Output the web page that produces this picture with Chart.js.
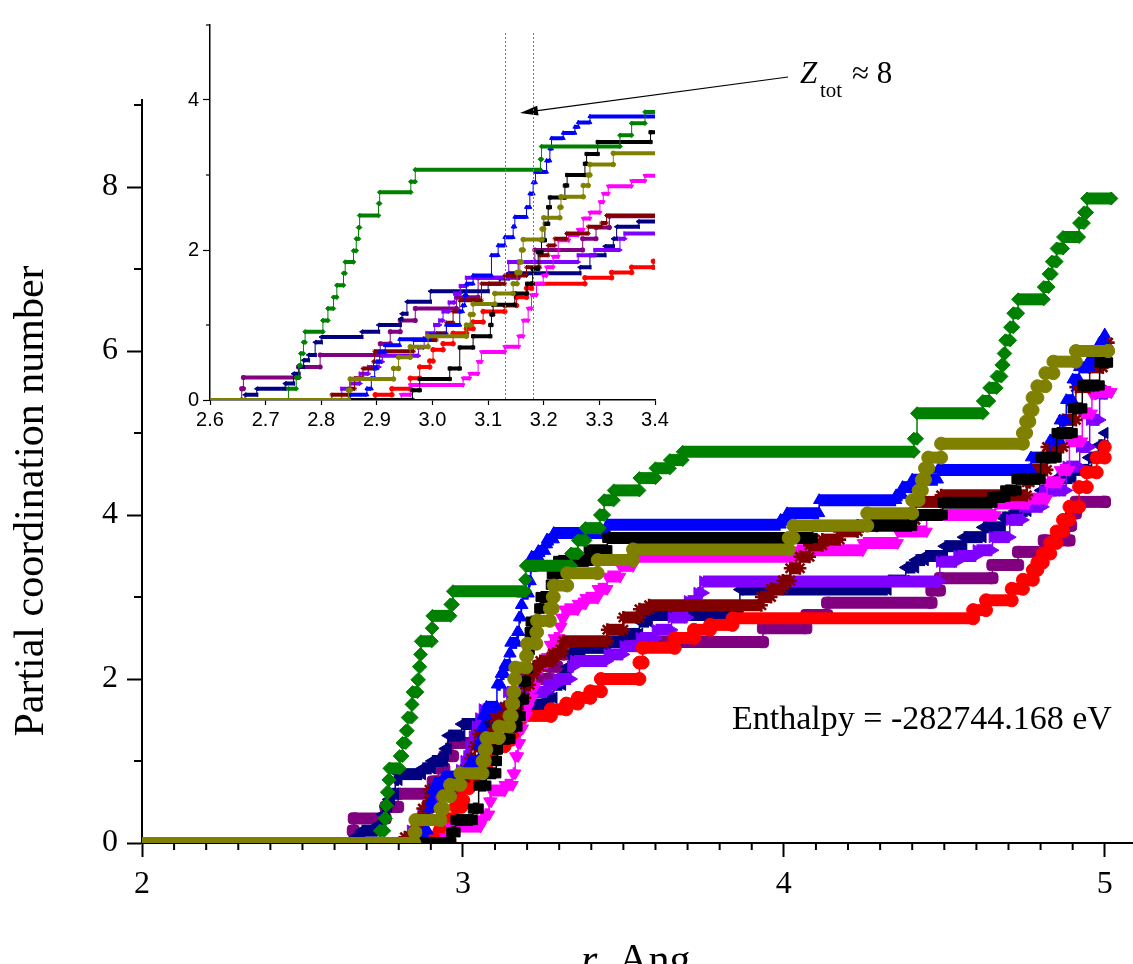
<!DOCTYPE html>
<html>
<head>
<meta charset="utf-8">
<title>Partial coordination number</title>
<script src="https://cdn.jsdelivr.net/npm/chart.js@4.4.1/dist/chart.umd.min.js"></script>
<style>
  html, body { margin: 0; padding: 0; background: #fff; }
  #wrap { position: relative; width: 1133px; height: 964px; overflow: hidden; }
  #main { position: absolute; left: 0; top: 0; }
  #inset { position: absolute; left: 140px; top: 10px; }
</style>
</head>
<body>
<div id="wrap">
  <canvas id="main" width="1133" height="964"></canvas>
  <canvas id="inset" width="540" height="430"></canvas>
</div>
<script>
// ---- step data: r (Ang.) where the count jumps, and the new count ----
const greenR = [2.0, 2.741, 2.755, 2.760, 2.763, 2.768, 2.771, 2.803, 2.812, 2.822, 2.828, 2.840, 2.843, 2.858, 2.863, 2.867, 2.869, 2.903, 2.905, 2.961, 2.969, 3.194, 3.196, 3.337, 3.358, 3.382, 3.427, 3.44, 3.47, 3.55, 3.60, 3.645, 3.685, 4.405, 4.415, 4.62, 4.64, 4.663, 4.678, 4.685, 4.69, 4.705, 4.715, 4.73, 4.81, 4.825, 4.835, 4.85, 4.87, 4.92, 4.935, 4.945, 5.02];
const greenN = [0, 0.15, 0.30, 0.46, 0.62, 0.77, 0.91, 1.06, 1.22, 1.37, 1.53, 1.69, 1.84, 1.99, 2.15, 2.30, 2.46, 2.62, 2.77, 2.91, 3.07, 3.21, 3.38, 3.53, 3.69, 3.84, 4.0, 4.18, 4.3, 4.45, 4.57, 4.67, 4.77, 4.93, 5.24, 5.39, 5.55, 5.69, 5.83, 5.97, 6.13, 6.29, 6.46, 6.63, 6.78, 6.94, 7.09, 7.25, 7.39, 7.56, 7.69, 7.86, 7.86];

const blueR = [2.0, 2.852, 2.882, 2.89, 2.896, 2.9, 2.905, 2.915, 2.941, 2.995, 3.025, 3.049, 3.054, 3.058, 3.061, 3.073, 3.106, 3.118, 3.13, 3.145, 3.148, 3.169, 3.175, 3.181, 3.185, 3.205, 3.211, 3.214, 3.235, 3.256, 3.262, 3.283, 3.45, 3.99, 4.01, 4.11, 4.35, 4.37, 4.40, 4.48, 4.77, 4.83, 4.86, 4.88, 4.90, 4.92, 4.953, 4.984, 5.0];
const blueN = [0, 0.07, 0.15, 0.29, 0.42, 0.51, 0.64, 0.73, 0.81, 0.87, 1.0, 1.18, 1.26, 1.40, 1.55, 1.66, 1.93, 2.06, 2.17, 2.31, 2.44, 2.57, 2.75, 2.9, 3.04, 3.19, 3.35, 3.49, 3.56, 3.64, 3.70, 3.78, 3.88, 3.94, 4.02, 4.18, 4.24, 4.34, 4.43, 4.55, 4.70, 4.91, 5.15, 5.4, 5.65, 5.8, 5.9, 6.1, 6.2];

const blackR = [2.0, 2.964, 2.977, 3.031, 3.049, 3.073, 3.104, 3.106, 3.109, 3.148, 3.17, 3.18, 3.19, 3.196, 3.202, 3.208, 3.211, 3.238, 3.242, 3.274, 3.277, 3.297, 3.392, 3.45, 4.09, 4.40, 4.495, 4.65, 4.69, 4.725, 4.80, 4.85, 4.9, 4.93, 4.984, 5.01];
const blackN = [0, 0.13, 0.28, 0.42, 0.70, 0.85, 1.0, 1.14, 1.27, 1.42, 1.55, 1.75, 1.97, 2.13, 2.35, 2.57, 2.70, 2.86, 3.0, 3.15, 3.28, 3.44, 3.57, 3.72, 3.87, 4.0, 4.15, 4.22, 4.3, 4.44, 4.7, 5.0, 5.3, 5.58, 5.86, 5.86];

const oliveR = [2.0, 2.849, 2.852, 2.93, 2.939, 2.96, 2.992, 3.061, 3.068, 3.073, 3.112, 3.145, 3.152, 3.157, 3.16, 3.163, 3.197, 3.2, 3.229, 3.231, 3.271, 3.28, 3.283, 3.325, 3.42, 3.53, 4.015, 4.03, 4.26, 4.40, 4.42, 4.43, 4.44, 4.45, 4.49, 4.745, 4.755, 4.765, 4.775, 4.79, 4.815, 4.84, 4.91, 5.01];
const oliveN = [0, 0.13, 0.28, 0.42, 0.57, 0.71, 0.85, 1.0, 1.14, 1.28, 1.42, 1.55, 1.70, 1.84, 2.0, 2.14, 2.28, 2.43, 2.57, 2.71, 2.86, 3.0, 3.14, 3.29, 3.45, 3.58, 3.72, 3.87, 4.02, 4.18, 4.30, 4.43, 4.57, 4.70, 4.87, 5.0, 5.14, 5.28, 5.43, 5.57, 5.73, 5.87, 6.0, 6.0];

const magentaR = [2.0, 2.944, 2.96, 3.055, 3.067, 3.082, 3.088, 3.13, 3.155, 3.163, 3.172, 3.178, 3.187, 3.199, 3.205, 3.217, 3.226, 3.245, 3.262, 3.271, 3.283, 3.301, 3.307, 3.316, 3.358, 3.382, 3.42, 3.45, 3.49, 3.53, 4.04, 4.246, 4.355, 4.445, 4.66, 4.76, 4.82, 4.86, 4.89, 4.93, 4.96, 4.97, 5.02];
const magentaN = [0, 0.07, 0.2, 0.29, 0.35, 0.51, 0.64, 0.71, 0.85, 1.06, 1.22, 1.40, 1.55, 1.66, 1.77, 1.91, 2.13, 2.2, 2.27, 2.42, 2.5, 2.64, 2.75, 2.85, 2.92, 2.99, 3.1, 3.25, 3.38, 3.49, 3.57, 3.66, 3.8, 4.0, 4.14, 4.2, 4.4, 4.55, 4.9, 5.24, 5.48, 5.5, 5.5];

const darkRedR = [2.0, 2.819, 2.85, 2.86, 2.875, 2.894, 2.896, 2.966, 3.007, 3.025, 3.037, 3.049, 3.088, 3.13, 3.169, 3.193, 3.208, 3.22, 3.241, 3.28, 3.304, 3.313, 3.45, 3.5, 3.55, 3.58, 3.93, 3.96, 3.997, 4.02, 4.05, 4.08, 4.12, 4.174, 4.23, 4.29, 4.41, 4.49, 4.757, 4.766, 4.82, 4.87, 4.91, 4.953, 4.994, 5.01];
const darkRedN = [0, 0.07, 0.15, 0.29, 0.42, 0.51, 0.65, 0.8, 0.89, 1.03, 1.18, 1.33, 1.55, 1.66, 1.77, 1.93, 2.06, 2.15, 2.22, 2.31, 2.36, 2.46, 2.6, 2.75, 2.85, 2.9, 3.0, 3.1, 3.2, 3.35, 3.49, 3.63, 3.7, 3.8, 3.87, 3.94, 4.16, 4.24, 4.4, 4.55, 4.83, 5.16, 5.56, 5.8, 6.1, 6.1];

const violetR = [2.0, 2.837, 2.853, 2.87, 2.885, 2.904, 2.91, 2.975, 2.985, 2.99, 3.004, 3.013, 3.019, 3.03, 3.04, 3.05, 3.061, 3.137, 3.262, 3.292, 3.337, 3.346, 3.45, 3.5, 3.55, 3.6, 3.65, 3.7, 3.73, 3.748, 4.486, 4.54, 4.60, 4.65, 4.704, 4.745, 4.807, 4.88, 4.922, 4.953, 4.984, 5.01];
const violetN = [0, 0.15, 0.22, 0.35, 0.44, 0.51, 0.59, 0.7, 0.82, 0.89, 1.0, 1.06, 1.18, 1.3, 1.42, 1.52, 1.63, 1.84, 1.93, 2.0, 2.15, 2.22, 2.3, 2.4, 2.5, 2.6, 2.75, 2.95, 3.05, 3.19, 3.43, 3.5, 3.57, 3.73, 3.94, 4.1, 4.3, 4.59, 4.83, 5.16, 5.48, 5.52];

const navyR = [2.0, 2.663, 2.684, 2.735, 2.75, 2.76, 2.768, 2.777, 2.789, 2.80, 2.873, 2.903, 2.942, 2.945, 2.954, 2.996, 3.10, 3.12, 3.136, 3.265, 3.283, 3.31, 3.325, 3.331, 3.37, 3.45, 3.5, 3.55, 3.58, 3.863, 4.324, 4.38, 4.41, 4.44, 4.5, 4.56, 4.62, 4.68, 4.72, 4.76, 4.8, 4.85, 4.9, 4.95, 4.98, 5.0];
const navyN = [0, 0.07, 0.15, 0.22, 0.35, 0.44, 0.53, 0.60, 0.77, 0.84, 0.91, 1.0, 1.08, 1.15, 1.31, 1.45, 1.55, 1.62, 1.69, 1.77, 1.93, 2.05, 2.15, 2.31, 2.38, 2.45, 2.55, 2.7, 2.78, 3.09, 3.2, 3.36, 3.45, 3.5, 3.62, 3.73, 3.85, 3.97, 4.05, 4.15, 4.3, 4.45, 4.55, 4.7, 4.85, 5.0];

const purpleR = [2.0, 2.657, 2.66, 2.759, 2.798, 2.906, 2.924, 2.942, 2.969, 3.043, 3.082, 3.154, 3.184, 3.27, 3.294, 3.318, 3.935, 4.07, 4.135, 4.46, 4.486, 4.65, 4.73, 4.81, 4.89, 4.895, 4.91, 5.0];
const purpleN = [0, 0.15, 0.3, 0.44, 0.6, 0.75, 0.91, 1.06, 1.22, 1.37, 1.63, 1.84, 2.0, 2.15, 2.3, 2.45, 2.62, 2.78, 2.93, 3.08, 3.23, 3.39, 3.55, 3.69, 3.87, 4.02, 4.16, 4.16];

const redR = [2.0, 2.897, 2.927, 2.96, 2.977, 2.995, 3.001, 3.019, 3.037, 3.061, 3.073, 3.091, 3.13, 3.151, 3.169, 3.178, 3.274, 3.322, 3.358, 3.397, 3.43, 3.55, 3.56, 3.66, 3.72, 3.77, 3.84, 4.59, 4.63, 4.71, 4.745, 4.776, 4.79, 4.807, 4.83, 4.85, 4.87, 4.89, 4.92, 4.944, 4.975, 5.0];
const redN = [0, 0.07, 0.15, 0.29, 0.44, 0.52, 0.67, 0.75, 0.89, 0.95, 1.04, 1.18, 1.26, 1.37, 1.49, 1.55, 1.63, 1.70, 1.77, 1.85, 2.0, 2.2, 2.38, 2.5, 2.6, 2.66, 2.74, 2.84, 2.96, 3.1, 3.21, 3.33, 3.42, 3.53, 3.66, 3.8, 3.94, 4.1, 4.34, 4.52, 4.7, 4.83];

// ticks
const xMajor = [2, 3, 4, 5];
const yMajor = [0, 2, 4, 6, 8];
const insetYMajor = [0, 2, 4];
const zGuides = [3.13, 3.18];

const SERIF = '"Liberation Serif", "Times New Roman", serif';
const SANS = '"Liberation Sans", Arial, sans-serif';

// first one is drawn on top
const series = [
  { r: oliveR, n: oliveN, color: "#808000", style: "circle", rot: 0 },
  { r: greenR, n: greenN, color: "#008000", style: "rectRot", rot: 0 },
  { r: blackR, n: blackN, color: "#000000", style: "rect", rot: 0 },
  { r: blueR, n: blueN, color: "#0000ff", style: "triangle", rot: 0 },
  { r: darkRedR, n: darkRedN, color: "#800000", style: "star", rot: 0 },
  { r: magentaR, n: magentaN, color: "#ff00ff", style: "triangle", rot: 180 },
  { r: redR, n: redN, color: "#ff0000", style: "circle", rot: 0 },
  { r: violetR, n: violetN, color: "#8000ff", style: "triangle", rot: 90 },
  { r: navyR, n: navyN, color: "#000080", style: "triangle", rot: -90 },
  { r: purpleR, n: purpleN, color: "#800080", style: "rectRounded", rot: 0 },
];

// plateau start + end for every step, so horizontal pieces can be drawn thick
function stepPoints(rs, ns) {
  const pts = [];
  for (let i = 0; i < rs.length - 1; i++) {
    pts.push({ x: rs[i], y: ns[i] });
    pts.push({ x: rs[i + 1], y: ns[i] });
  }
  pts.push({ x: rs[rs.length - 1], y: ns[ns.length - 1] });
  return pts;
}

function makeDatasets(thick, thin, radius) {
  return series.map((s) => ({
    data: stepPoints(s.r, s.n),
    borderColor: s.color,
    backgroundColor: s.color,
    borderWidth: thin,
    pointStyle: s.style,
    pointRotation: s.rot,
    pointRadius: (ctx) => (ctx.dataIndex === 0 ? 0 : radius),
    pointBorderWidth: s.style === "star" ? Math.max(1, radius / 2.5) : 1,
    pointHoverRadius: 0,
    tension: 0,
    fill: false,
    clip: { left: 0, top: 0, right: 0, bottom: 0 },
    segment: {
      borderWidth: (ctx) => (Math.abs(ctx.p0.y - ctx.p1.y) < 0.01 ? thick : thin),
    },
  }));
}

const isWhole = (v) => Math.abs(v - Math.round(v)) < 1e-6;

// short ticks for the values that have no label
function minorTickPlugin(id, lengths) {
  return {
    id: id,
    afterDraw(chart) {
      const ctx = chart.ctx;
      ctx.save();
      ctx.strokeStyle = "#000";
      Object.keys(lengths).forEach((key) => {
        const s = chart.scales[key];
        const L = lengths[key];
        ctx.lineWidth = L.width;
        s.ticks.forEach((t) => {
          if (L.isMajor(t.value)) return;
          const p = s.getPixelForValue(t.value);
          ctx.beginPath();
          if (key === "x") {
            ctx.moveTo(p, s.top);
            ctx.lineTo(p, s.top + L.len);
          } else {
            ctx.moveTo(s.right, p);
            ctx.lineTo(s.right - L.len, p);
          }
          ctx.stroke();
        });
      });
      ctx.restore();
    },
  };
}

const textPlugin = {
  id: "texts",
  afterDraw(chart) {
    const ctx = chart.ctx;
    ctx.save();
    ctx.fillStyle = "#000";
    ctx.textBaseline = "alphabetic";

    // y title
    ctx.save();
    ctx.translate(43, 501);
    ctx.rotate(-Math.PI / 2);
    ctx.textAlign = "center";
    ctx.font = "42px " + SERIF;
    ctx.fillText("Partial coordination number", 0, 0);
    ctx.restore();

    // x title
    ctx.textAlign = "left";
    ctx.font = "italic 42px " + SERIF;
    const rw = ctx.measureText("r").width;
    ctx.font = "42px " + SERIF;
    const restW = ctx.measureText(", Ang.").width;
    const x0 = 641 - (rw + restW) / 2;
    ctx.font = "italic 42px " + SERIF;
    ctx.fillText("r", x0, 973);
    ctx.font = "42px " + SERIF;
    ctx.fillText(", Ang.", x0 + rw, 973);

    // enthalpy
    ctx.font = "34px " + SERIF;
    ctx.fillText("Enthalpy = -282744.168 eV", 732, 729);

    // Z_tot label and arrow
    ctx.font = "italic 31px " + SERIF;
    ctx.fillText("Z", 800, 83);
    ctx.font = "21px " + SERIF;
    ctx.fillText("tot", 820, 97);
    ctx.font = "31px " + SERIF;
    ctx.fillText("\u2248 8", 852, 83);

    const ax = 788, ay = 77, bx = 520, by = 113;
    const ang = Math.atan2(by - ay, bx - ax);
    ctx.strokeStyle = "#000";
    ctx.lineWidth = 1.2;
    ctx.beginPath();
    ctx.moveTo(ax, ay);
    ctx.lineTo(bx - 14 * Math.cos(ang), by - 14 * Math.sin(ang));
    ctx.stroke();
    ctx.beginPath();
    ctx.moveTo(bx, by);
    ctx.lineTo(bx - 18 * Math.cos(ang) + 5 * Math.sin(ang), by - 18 * Math.sin(ang) - 5 * Math.cos(ang));
    ctx.lineTo(bx - 18 * Math.cos(ang) - 5 * Math.sin(ang), by - 18 * Math.sin(ang) + 5 * Math.cos(ang));
    ctx.closePath();
    ctx.fill();
    ctx.restore();
  },
};

const guidePlugin = {
  id: "guides",
  afterDatasetsDraw(chart) {
    const ctx = chart.ctx;
    const s = chart.scales.x;
    ctx.save();
    ctx.strokeStyle = "#777";
    ctx.lineWidth = 1;
    ctx.setLineDash([2, 2]);
    zGuides.forEach((r) => {
      const p = Math.round(s.getPixelForValue(r)) + 0.5;
      ctx.beginPath();
      ctx.moveTo(p, chart.chartArea.top + 8);
      ctx.lineTo(p, chart.chartArea.bottom);
      ctx.stroke();
    });
    ctx.restore();
  },
};

Chart.defaults.font.family = SERIF;
Chart.defaults.color = "#000";

new Chart(document.getElementById("main"), {
  type: "line",
  data: { datasets: makeDatasets(12, 1.5, 6.5) },
  options: {
    responsive: false,
    animation: false,
    devicePixelRatio: 1,
    events: [],
    layout: { autoPadding: false, padding: { top: 100, right: 0, bottom: 0, left: 0 } },
    plugins: { legend: { display: false }, tooltip: { enabled: false } },
    scales: {
      x: {
        type: "linear",
        min: 2,
        max: 5.088,
        afterFit: (s) => { s.height = 121; s.paddingLeft = 0; s.paddingRight = 0; },
        ticks: {
          stepSize: 0.1,
          includeBounds: false,
          autoSkip: false,
          maxRotation: 0,
          padding: 8,
          font: { family: SERIF, size: 32 },
          callback: (v) => (xMajor.some((m) => Math.abs(m - v) < 1e-6) ? String(Math.round(v)) : ""),
        },
        grid: {
          drawOnChartArea: false,
          tickLength: 14,
          tickWidth: 2,
          tickColor: (c) => (isWhole(c.tick.value) ? "#000" : "rgba(0,0,0,0)"),
        },
        border: { display: true, color: "#000", width: 2 },
      },
      y: {
        type: "linear",
        min: 0,
        max: 9.061,
        afterFit: (s) => { s.width = 142; s.paddingTop = 0; s.paddingBottom = 0; },
        ticks: {
          stepSize: 1,
          includeBounds: false,
          autoSkip: false,
          padding: 9,
          font: { family: SERIF, size: 32 },
          callback: (v) => (yMajor.includes(v) ? String(v) : ""),
        },
        grid: {
          drawOnChartArea: false,
          tickLength: 15,
          tickWidth: 2,
          tickColor: (c) => (c.tick.value % 2 === 0 ? "#000" : "rgba(0,0,0,0)"),
        },
        border: { display: true, color: "#000", width: 2 },
      },
    },
  },
  plugins: [
    minorTickPlugin("mainMinor", {
      x: { len: 7, width: 2, isMajor: isWhole },
      y: { len: 8, width: 2, isMajor: (v) => v % 2 === 0 },
    }),
    textPlugin,
  ],
});

new Chart(document.getElementById("inset"), {
  type: "line",
  data: { datasets: makeDatasets(4, 1, 2.3) },
  options: {
    responsive: false,
    animation: false,
    devicePixelRatio: 1,
    events: [],
    layout: { autoPadding: false, padding: { top: 15, right: 25, bottom: 0, left: 0 } },
    plugins: { legend: { display: false }, tooltip: { enabled: false } },
    scales: {
      x: {
        type: "linear",
        min: 2.6,
        max: 3.4,
        afterFit: (s) => { s.height = 40; s.paddingLeft = 0; s.paddingRight = 0; },
        ticks: {
          stepSize: 0.1,
          includeBounds: false,
          autoSkip: false,
          maxRotation: 0,
          padding: 3,
          font: { family: SANS, size: 20 },
          callback: (v) => v.toFixed(1),
        },
        grid: { drawOnChartArea: false, tickLength: 5, tickWidth: 1.2, tickColor: "#000" },
        border: { display: true, color: "#000", width: 1.5 },
      },
      y: {
        type: "linear",
        min: 0,
        max: 5,
        afterFit: (s) => { s.width = 70; s.paddingTop = 0; s.paddingBottom = 0; },
        ticks: {
          stepSize: 1,
          includeBounds: false,
          autoSkip: false,
          padding: 4,
          font: { family: SANS, size: 20 },
          callback: (v) => (insetYMajor.includes(v) ? String(v) : ""),
        },
        grid: {
          drawOnChartArea: false,
          tickLength: 7,
          tickWidth: 1.2,
          tickColor: (c) => (c.tick.value % 2 === 0 ? "#000" : "rgba(0,0,0,0)"),
        },
        border: { display: true, color: "#000", width: 1.5 },
      },
    },
  },
  plugins: [
    minorTickPlugin("insetMinor", { y: { len: 4, width: 1.2, isMajor: (v) => v % 2 === 0 } }),
    guidePlugin,
  ],
});
</script>
</body>
</html>
